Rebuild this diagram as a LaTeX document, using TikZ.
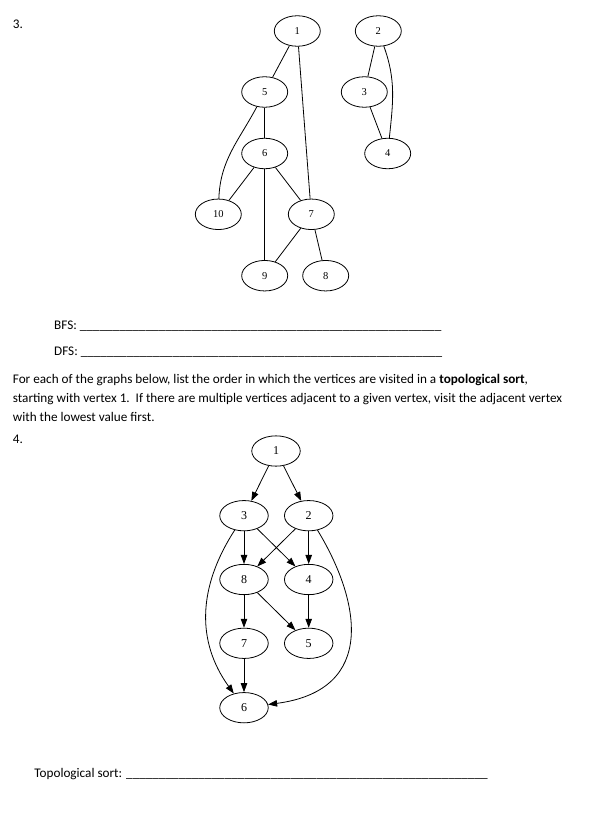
\documentclass[tikz,border=0pt]{standalone}
\usepackage{fontspec}
\setmainfont{Carlito}
\newfontfamily\gvfont{Liberation Serif}
\usetikzlibrary{shapes.geometric,arrows.meta}
\newcommand\myulten{\_\_\_\_\_\_\_\_\_\_}
\newcommand\myblank{\myulten\myulten\myulten\myulten\myulten\_\_\_\_\_}
\begin{document}
\begin{tikzpicture}[x=1pt,y=-1pt,
  vtxA/.style={ellipse, draw, line width=0.8pt, minimum width=46pt, minimum height=30.5pt, inner sep=0pt, font=\gvfont\fontsize{10.5}{12}\selectfont},
  vtxB/.style={ellipse, draw, line width=0.8pt, minimum width=48.5pt, minimum height=30.3pt, inner sep=0pt, font=\gvfont\fontsize{12}{14}\selectfont},
  ln/.style={line width=0.8pt},
  dirarc/.style={line width=0.8pt, -{Triangle[length=9pt,width=6.5pt]}},
  txt/.style={anchor=base west, inner sep=0pt, font=\fontsize{13.2}{16}\selectfont}]
\useasboundingbox (0,0) rectangle (606,829);

% headings and text
\node[txt] (h3) at (12.7,28.5) {3.};
\node[txt] (bfs) at (54,329) {BFS: \myblank};
\node[txt] (dfs) at (54,355.5) {DFS: \myblank};
\node[txt] (p1) at (12.7,383) {For each of the graphs below, list the order in which the vertices are visited in a \textbf{topological sort},};
\node[txt] (p2) at (12.7,402) {starting with vertex 1.\ \ If there are multiple vertices adjacent to a given vertex, visit the adjacent vertex};
\node[txt] (p3) at (12.7,421) {with the lowest value first.};
\node[txt] (h4) at (12.7,443) {4.};
\node[txt] (topo) at (34.2,777) {Topological sort: \myblank};

% graph 3
\node[vtxA] (a1) at (297.3,31) {1};
\node[vtxA] (a2) at (378.3,31) {2};
\node[vtxA] (a5) at (264.7,92) {5};
\node[vtxA] (a3) at (364.3,92) {3};
\node[vtxA] (a6) at (264.7,153.5) {6};
\node[vtxA] (a4) at (387.7,153.5) {4};
\node[vtxA] (a10) at (218.3,214.3) {10};
\node[vtxA] (a7) at (311.3,214.3) {7};
\node[vtxA] (a9) at (264.7,275.7) {9};
\node[vtxA] (a8) at (325.7,275.7) {8};

\draw[ln] (a1) -- (a5);
\draw[ln] (a1) -- (a7);
\draw[ln] (a5) -- (a6);
\draw[ln] (a5) to[out=-118,in=88] (a10);
\draw[ln] (a6) -- (a10);
\draw[ln] (a6) -- (a9);
\draw[ln] (a6) -- (a7);
\draw[ln] (a7) -- (a9);
\draw[ln] (a7) -- (a8);
\draw[ln] (a2) -- (a3);
\draw[ln] (a3) -- (a4);
\draw[ln] (a2) to[out=-70,in=84] (a4);

% graph 4
\node[vtxB] (b1) at (276,451) {1};
\node[vtxB] (b3) at (244,515.7) {3};
\node[vtxB] (b2) at (308.7,515.7) {2};
\node[vtxB] (b8) at (244,579.5) {8};
\node[vtxB] (b4) at (308.7,579.5) {4};
\node[vtxB] (b7) at (244,643.3) {7};
\node[vtxB] (b5) at (308.7,643.3) {5};
\node[vtxB] (b6) at (244,707.7) {6};

\draw[dirarc] (b1) -- (b3);
\draw[dirarc] (b1) -- (b2);
\draw[dirarc] (b3) -- (b8);
\draw[dirarc] (b3) -- (b4);
\draw[dirarc] (b2) -- (b8);
\draw[dirarc] (b2) -- (b4);
\draw[dirarc] (b8) -- (b7);
\draw[dirarc] (b8) -- (b5);
\draw[dirarc] (b4) -- (b5);
\draw[dirarc] (b7) -- (b6);
\draw[dirarc] (b3) .. controls (198,587) and (196,641) .. (b6);
\draw[dirarc] (b2) .. controls (360,600) and (378,690) .. (b6);
\end{tikzpicture}
\end{document}
